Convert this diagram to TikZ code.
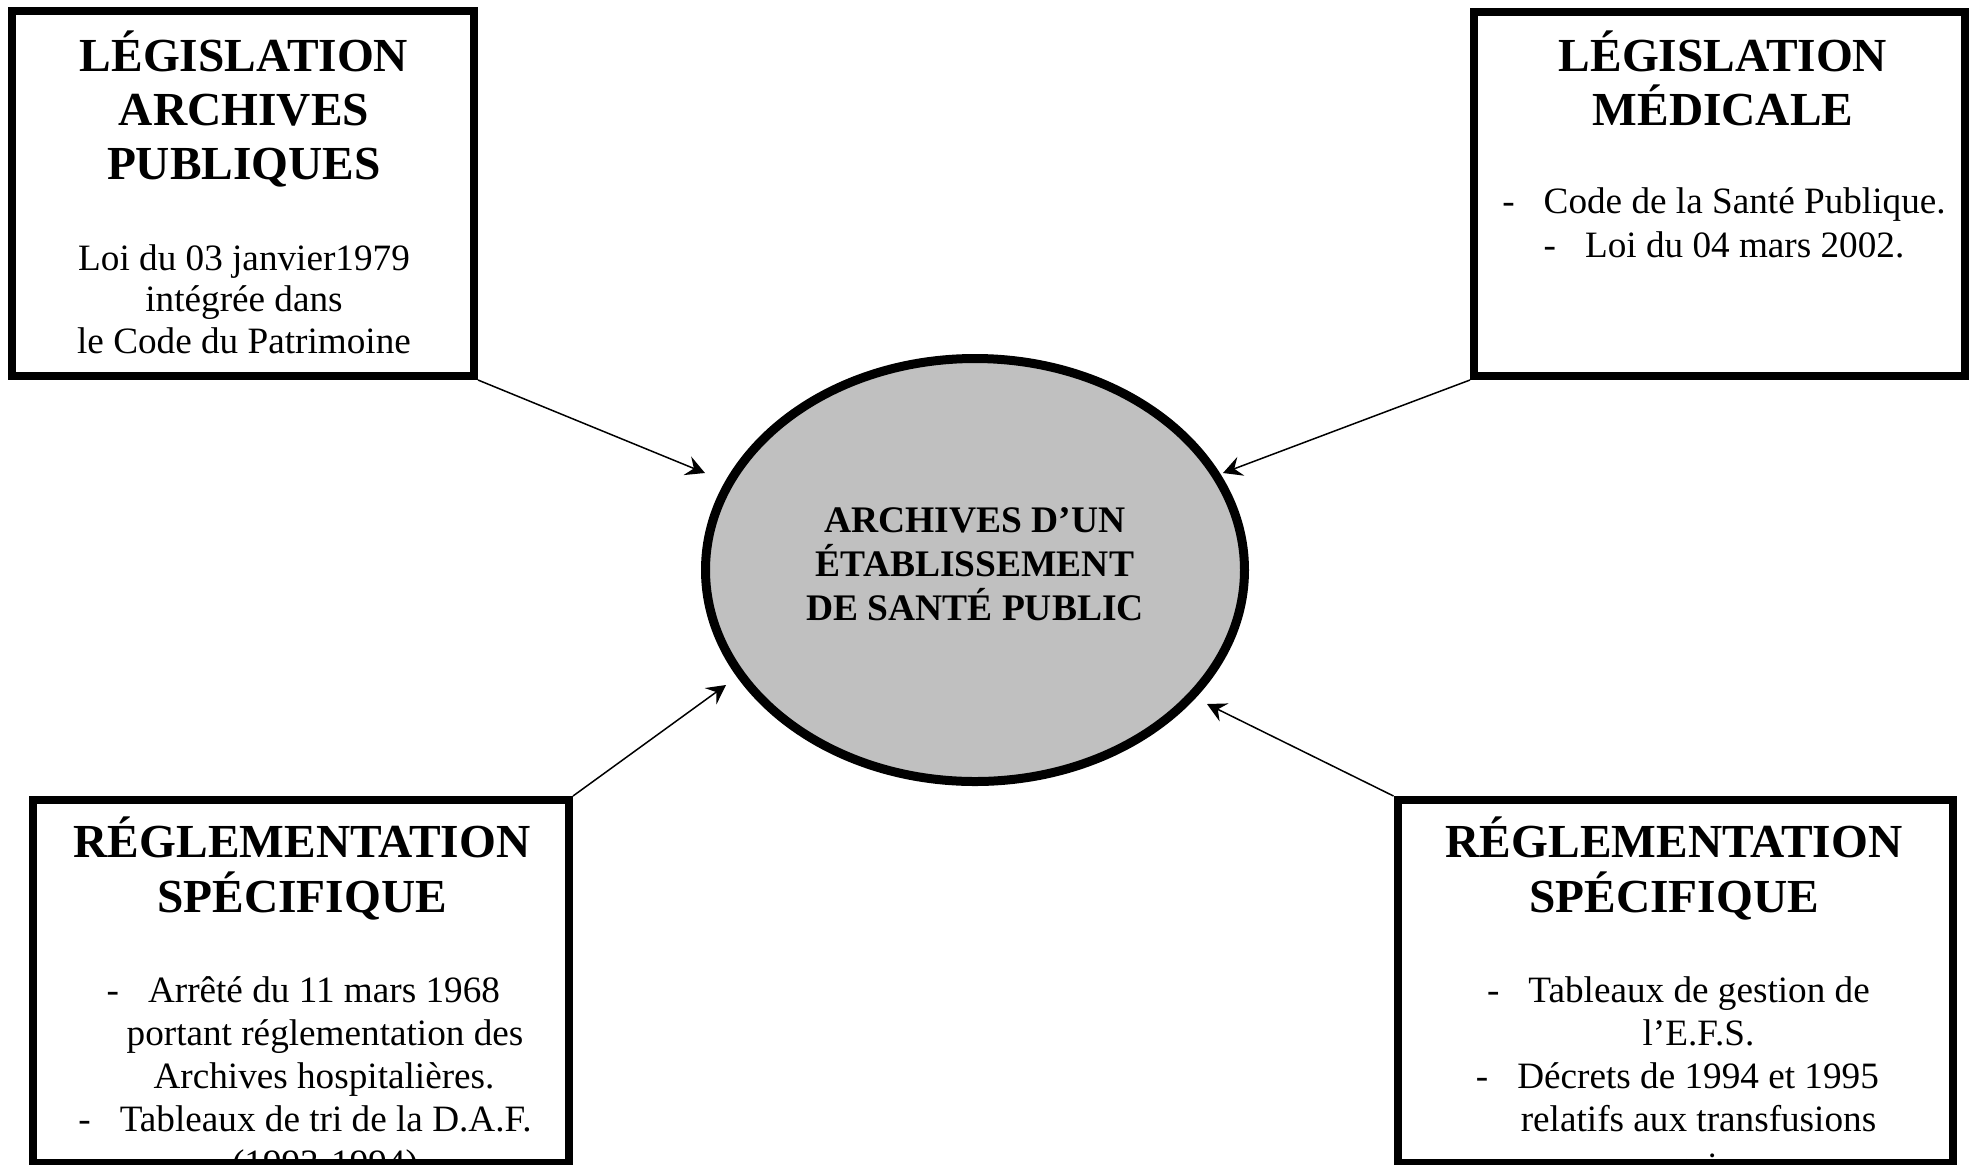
\documentclass[tikz,border=0pt]{standalone}
\usepackage{fontspec}
\setmainfont{Liberation Serif}
\usetikzlibrary{arrows.meta,shapes.geometric}
\definecolor{ellgray}{RGB}{192,192,192}
\newcommand\listdash{-\hspace{14.5pt}}
\begin{document}
\begin{tikzpicture}[x=0.5pt,y=-0.5pt,
  frame/.style={draw=black,line width=4pt,rectangle,inner sep=0pt,outer sep=2pt},
  ttl/.style={anchor=base,inner sep=0pt,font=\fontsize{23.7}{27}\selectfont\bfseries},
  txt/.style={anchor=base,inner sep=0pt,font=\fontsize{18.6}{21.5}\selectfont},
  ctr/.style={anchor=base,inner sep=0pt,font=\fontsize{18.75}{22}\selectfont\bfseries},
  link/.style={line width=0.75pt,-{Stealth[length=9.5pt,width=10pt,inset=3.5pt]}}
]
\path[use as bounding box] (0,0) rectangle (1972,1164);

% central ellipse
\node[ellipse,draw=black,line width=4.5pt,fill=ellgray,minimum width=269.5pt,minimum height=211.5pt,inner sep=0pt,outer sep=2.25pt] (hub) at (975,570) {};
\node[ctr] (c1) at (975,532) {ARCHIVES D’UN};
\node[ctr] (c2) at (975,576) {ÉTABLISSEMENT};
\node[ctr] (c3) at (975,620) {DE SANTÉ PUBLIC};

% top-left box
\node[frame,minimum width=231pt,minimum height=182.5pt] (tl) at (243,193.5) {};
\node[ttl] (tl1) at (244,71) {LÉGISLATION};
\node[ttl] (tl2) at (244,125) {ARCHIVES};
\node[ttl] (tl3) at (244,179) {PUBLIQUES};
\node[txt] (tl4) at (244,270) {Loi du 03 janvier1979};
\node[txt] (tl5) at (244,311.5) {intégrée dans};
\node[txt] (tl6) at (244,353) {le Code du Patrimoine};

% top-right box
\node[frame,minimum width=245.5pt,minimum height=182pt] (tr) at (1719.5,194) {};
\node[ttl] (tr1) at (1723,71) {LÉGISLATION};
\node[ttl] (tr2) at (1723,125) {MÉDICALE};
\node[txt] (tr3) at (1724,213.5) {\listdash Code de la Santé Publique.};
\node[txt] (tr4) at (1724,257.5) {\listdash Loi du 04 mars 2002.};

% bottom-left box
\begin{scope}
\clip (37,804) rectangle (565,1159);
\node[ttl] (bl1) at (302,857) {RÉGLEMENTATION};
\node[ttl] (bl2) at (302,912) {SPÉCIFIQUE};
\node[txt] (bl3) at (303.3,1002) {\listdash Arrêté du 11 mars 1968};
\node[txt] (bl4) at (325,1045) {portant réglementation des};
\node[txt] (bl5) at (324,1088) {Archives hospitalières.};
\node[txt] (bl6) at (305,1131) {\listdash Tableaux de tri de la D.A.F.};
\node[txt] (bl7) at (325,1175) {(1993-1994)};
\end{scope}
\node[frame,minimum width=268pt,minimum height=181.5pt] (bl) at (301,981.5) {};

% bottom-right box
\begin{scope}
\clip (1401.5,804) rectangle (1949,1159);
\node[ttl] (br1) at (1674,857) {RÉGLEMENTATION};
\node[ttl] (br2) at (1674,912) {SPÉCIFIQUE};
\node[txt] (br3) at (1678.4,1002) {\listdash Tableaux de gestion de};
\node[txt] (br4) at (1698.5,1045) {l’E.F.S.};
\node[txt] (br5) at (1677.4,1088) {\listdash Décrets de 1994 et 1995};
\node[txt] (br6) at (1698.5,1131) {relatifs aux transfusions};
\node[txt] (br7) at (1698.5,1178) {sanguines.};
\end{scope}
\node[frame,minimum width=277.75pt,minimum height=181.5pt] (br) at (1675.25,981.5) {};

% arrows
\coordinate (tipA) at (705,473);
\coordinate (tipB) at (1223,473);
\coordinate (tipC) at (726,685);
\coordinate (tipD) at (1207,704);
\draw[link] (tl.south east) -- (tipA);
\draw[link] (tr.south west) -- (tipB);
\draw[link] (bl.north east) -- (tipC);
\draw[link] (br.north west) -- (tipD);
\end{tikzpicture}
\end{document}
